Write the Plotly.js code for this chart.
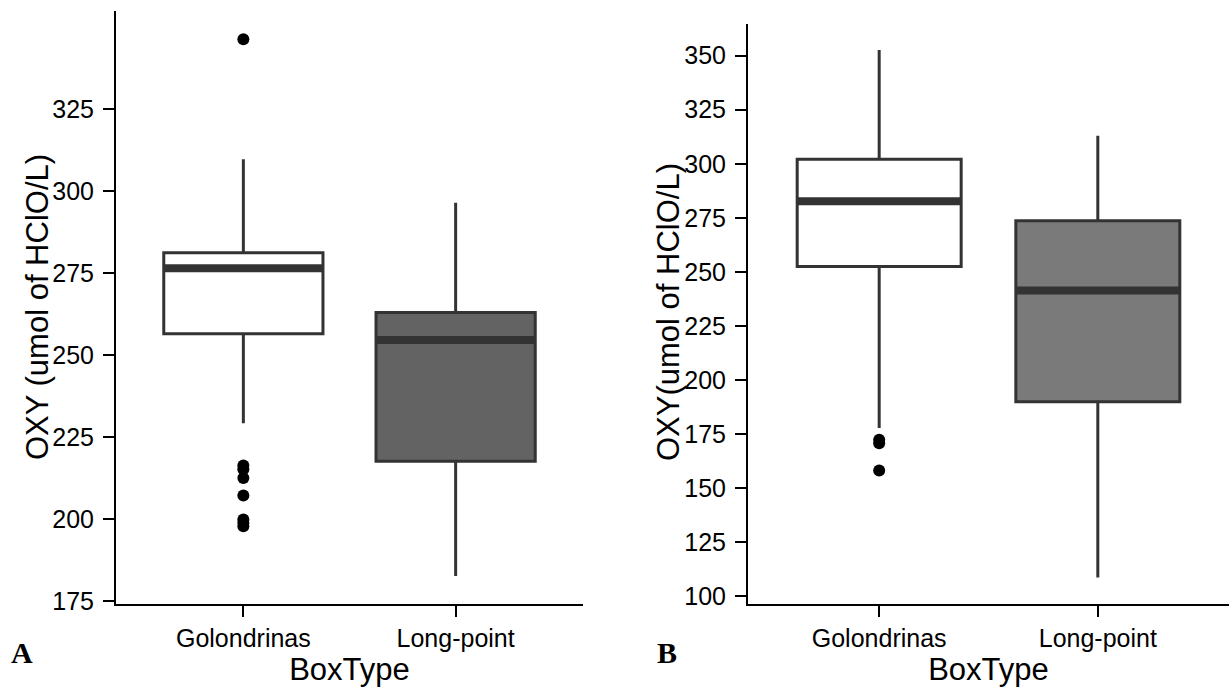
<!DOCTYPE html>
<html><head><meta charset="utf-8">
<script src="https://cdn.plot.ly/plotly-3.0.1.min.js"></script>
<style>html,body{margin:0;padding:0;background:#fff}</style>
</head><body><div id="chart" style="width:1230px;height:692px"></div>
<script>
// ---- data ----
const categories = ["Golondrinas", "Long-point"];
const tickValsA = [175, 200, 225, 250, 275, 300, 325];
const tickValsB = [100, 125, 150, 175, 200, 225, 250, 275, 300, 325, 350];

// Panel A
const aQ1 = [256.5, 217.6];
const aMedian = [276.5, 254.6];
const aQ3 = [281.2, 263.0];
const aLower = [229.2, 182.6];
const aUpper = [309.7, 296.4];
const aOutliersGol = [346.3, 216.3, 215.2, 212.5, 207.2, 199.9, 198.8, 197.8];
const aFill = ["#ffffff", "#636363"];

// Panel B
const bQ1 = [252.5, 190.0];
const bMedian = [282.7, 241.4];
const bQ3 = [302.1, 273.6];
const bLower = [177.8, 108.8];
const bUpper = [352.6, 312.9];
const bOutliersGol = [172.4, 170.8, 158.2];
const bFill = ["#ffffff", "#7a7a7a"];

const yTitleA = "OXY (umol of HClO/L)";
const yTitleB = "OXY(umol of HClO/L)";
const xTitle = "BoxType";

// ---- styling ----
const BOXW = 0.75;
const EDGE = "#333333";
const traces = [];

function panel(q1, med, q3, lo, hi, fills, outl, xa, ya) {
  categories.forEach((c, i) => {
    const pos = i + 1;
    traces.push({
      type: "box", name: c, x: [pos], q1: [q1[i]], median: [med[i]], q3: [q3[i]],
      lowerfence: [lo[i]], upperfence: [hi[i]], width: BOXW, whiskerwidth: 0,
      boxpoints: false, fillcolor: fills[i], line: {color: EDGE, width: 3},
      xaxis: xa, yaxis: ya, hoverinfo: "skip"
    });
    traces.push({
      type: "scatter", mode: "lines", x: [pos - BOXW / 2, pos + BOXW / 2], y: [med[i], med[i]],
      line: {color: EDGE, width: 8}, xaxis: xa, yaxis: ya, hoverinfo: "skip"
    });
  });
  traces.push({
    type: "scatter", mode: "markers", x: outl.map(() => 1), y: outl,
    marker: {color: "#000000", size: 12}, xaxis: xa, yaxis: ya, hoverinfo: "skip"
  });
}
panel(aQ1, aMedian, aQ3, aLower, aUpper, aFill, aOutliersGol, "x", "y");
panel(bQ1, bMedian, bQ3, bLower, bUpper, bFill, bOutliersGol, "x2", "y2");

const W = 1230, H = 692;
const tickFont = {family: "Liberation Sans, Arial, sans-serif", size: 25, color: "#000"};
const titleFont = {family: "Liberation Sans, Arial, sans-serif", size: 31, color: "#000"};
function xAx(dom, anchor) {
  return {domain: dom, anchor: anchor, range: [0.4, 2.6], tickvals: [1, 2], ticktext: categories,
    showline: true, linecolor: "#000", linewidth: 2, ticks: "outside", ticklen: 11, tickwidth: 2,
    tickcolor: "#000", showgrid: false, zeroline: false, tickfont: tickFont,
    title: {text: xTitle, font: titleFont, standoff: 6}};
}
function yAx(dom, anchor, range, tv) {
  return {domain: dom, anchor: anchor, range: range, tickvals: tv,
    showline: true, linecolor: "#000", linewidth: 2, ticks: "outside", ticklen: 11, tickwidth: 2,
    tickcolor: "#000", showgrid: false, zeroline: false, tickfont: tickFont, ticklabelstandoff: 4};
}

const letterFont = {family: "Liberation Serif, Times New Roman, serif", size: 30, color: "#000", weight: 700};
const layout = {
  width: W, height: H, margin: {l: 0, r: 0, t: 0, b: 0},
  paper_bgcolor: "#fff", plot_bgcolor: "#fff", showlegend: false,
  xaxis: xAx([116 / W, 583 / W], "y"),
  yaxis: yAx([(H - 604) / H, (H - 11) / H], "x", [174.1, 354.9], tickValsA),
  xaxis2: xAx([748 / W, 1229 / W], "y2"),
  yaxis2: yAx([(H - 604) / H, (H - 24) / H], "x2", [96.5, 364.6], tickValsB),
  annotations: [
    {text: yTitleA, xref: "paper", yref: "paper", x: 37 / W, y: (H - 307) / H, xanchor: "center", yanchor: "middle",
     textangle: -90, showarrow: false, font: titleFont},
    {text: yTitleB, xref: "paper", yref: "paper", x: 668 / W, y: (H - 312) / H, xanchor: "center", yanchor: "middle",
     textangle: -90, showarrow: false, font: titleFont},
    {text: "A", xref: "paper", yref: "paper", x: 9 / W, y: (H - 652) / H, xanchor: "left", yanchor: "middle",
     showarrow: false, font: letterFont},
    {text: "B", xref: "paper", yref: "paper", x: 655 / W, y: (H - 652) / H, xanchor: "left", yanchor: "middle",
     showarrow: false, font: letterFont}
  ]
};
Plotly.newPlot("chart", traces, layout, {staticPlot: true, displayModeBar: false});
</script></body></html>
